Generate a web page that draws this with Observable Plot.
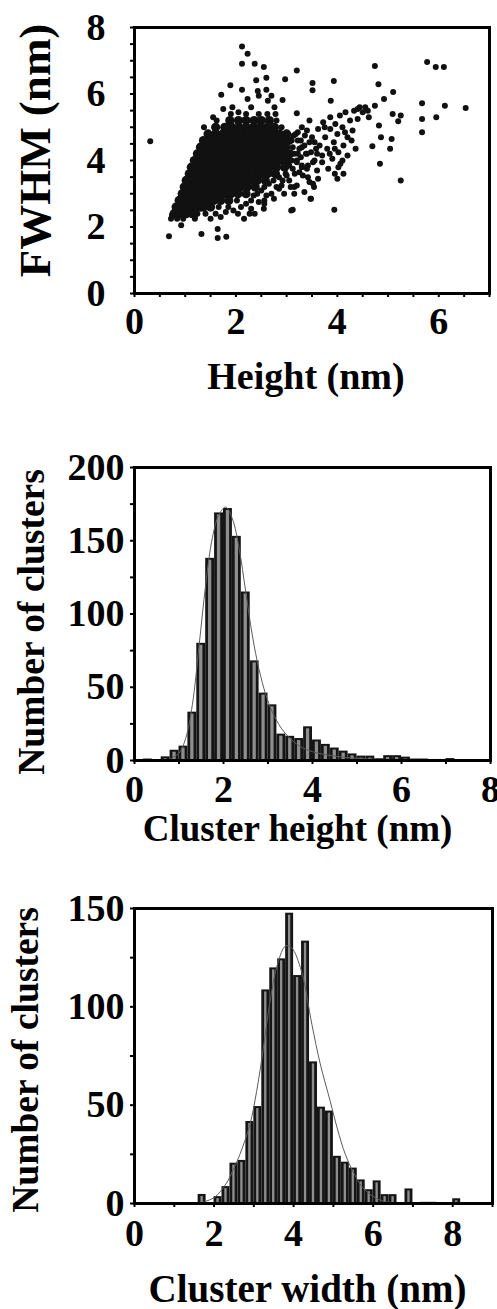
<!DOCTYPE html>
<html><head><meta charset="utf-8">
<script src="https://cdn.jsdelivr.net/npm/d3@7"></script>
<script src="https://cdn.jsdelivr.net/npm/@observablehq/plot@0.6"></script>
<style>
html,body{margin:0;padding:0;background:#fff;}
#wrap{position:relative;width:497px;height:1309px;overflow:hidden;background:#fff;}
#wrap svg{position:absolute;left:0;overflow:visible;}
</style></head><body><div id="wrap"></div>
<script>
// ---------- Panel A: FWHM vs Height scatter ----------
// dense core, one row per FWHM level: [FWHM, [heights...]]
const scatterCoreRows = [
  [5.2, [1.88, 2.05, 2.2, 2.36, 2.5, 2.66]],
  [5.0, [1.6, 1.78, 1.92, 2.06, 2.2, 2.34, 2.48, 2.62, 2.76]],
  [4.8, [1.45, 1.6, 1.74, 1.88, 2.02, 2.16, 2.3, 2.44, 2.58, 2.72, 2.86, 3.0]],
  [4.6, [1.36, 1.5, 1.64, 1.78, 1.92, 2.06, 2.2, 2.34, 2.48, 2.62, 2.76, 2.9, 3.04]],
  [4.4, [1.3, 1.44, 1.58, 1.72, 1.86, 2.0, 2.14, 2.28, 2.42, 2.56, 2.7, 2.84, 2.98]],
  [4.2, [1.24, 1.38, 1.52, 1.66, 1.8, 1.94, 2.08, 2.22, 2.36, 2.5, 2.64, 2.78, 2.92, 3.06]],
  [4.0, [1.18, 1.32, 1.46, 1.6, 1.74, 1.88, 2.02, 2.16, 2.3, 2.44, 2.58, 2.72, 2.86, 3.0]],
  [3.8, [1.12, 1.26, 1.4, 1.54, 1.68, 1.82, 1.96, 2.1, 2.24, 2.38, 2.52, 2.66, 2.8, 2.96]],
  [3.6, [1.08, 1.22, 1.36, 1.5, 1.64, 1.78, 1.92, 2.06, 2.2, 2.34, 2.48, 2.62, 2.78]],
  [3.4, [1.02, 1.16, 1.3, 1.44, 1.58, 1.72, 1.86, 2.0, 2.14, 2.28, 2.42, 2.58]],
  [3.2, [0.98, 1.1, 1.24, 1.38, 1.52, 1.66, 1.8, 1.94, 2.08, 2.22, 2.38]],
  [3.0, [0.94, 1.06, 1.2, 1.34, 1.48, 1.62, 1.76, 1.9, 2.04, 2.2]],
  [2.8, [0.88, 1.0, 1.14, 1.28, 1.42, 1.56, 1.7, 1.86]],
  [2.6, [0.82, 0.95, 1.08, 1.22, 1.36, 1.5]],
  [2.4, [0.78, 0.9, 1.02, 1.14]]
];
// single points: [height, FWHM]
const scatterPoints = [
  [1.93,5.6],[2.76,5.6],[1.9,5.4],[2.2,5.4],[2.45,5.4],[2.62,5.4],[2.78,5.4],[1.62,5.2],[2.8,5.2],
  [1.37,5.0],[2.9,5.0],[3.18,4.8],[3.22,4.6],[3.12,4.4],[3.3,4.4],[3.22,4.2],[3.4,4.2],[3.2,4.0],
  [3.3,3.8],[2.98,3.6],[3.16,3.6],[2.74,3.4],[2.92,3.4],[2.56,3.2],[2.8,3.2],[3.15,3.2],[2.42,3.0],
  [2.7,3.0],[2.02,2.8],[2.3,2.8],[2.56,2.8],[1.66,2.6],[1.85,2.6],[2.1,2.6],[1.24,2.4],[1.4,2.4],
  [1.6,2.4],[2.04,2.4],[2.27,2.4],[2.37,2.4],[0.72,2.25],[0.84,2.25],[0.96,2.25],[1.19,2.25],
  [1.5,2.25],[2.16,2.25],[0.74,2.35],
  [2.3,2.55],[2.45,2.75],[2.6,2.95],[2.75,2.85],[2.5,3.1],[2.65,3.3],[2.85,3.5],[2.9,3.25],
  [2.2,2.7],[1.95,2.5],[1.8,2.45],[2.7,3.6],[2.55,2.55],[2.35,2.95],[1.7,2.3],[1.3,2.55],
  [3.1,4.6],[3.15,4.2],[3.25,4.35],[3.3,3.85],[3.38,4.2],[3.12,3.75],[3.2,3.95],[3.28,4.6],
  [3.36,4.75],[3.45,4.55],[3.52,3.95],[3.58,4.35],[3.1,4.0],[3.32,3.55],[3.0,3.55],[3.08,3.2],
  [2.95,3.0],[2.85,3.15],[3.14,4.75],[3.05,3.85],
  [3.28,4.1],[3.35,4.45],[3.42,3.85],[3.48,4.25],[3.5,4.7],[3.55,4.0],[3.6,3.7],[3.62,4.95],
  [3.65,4.45],[3.7,4.15],[3.72,5.15],[3.76,4.7],[3.8,4.35],[3.82,3.75],[3.86,4.95],[3.86,5.3],
  [3.9,4.05],[3.93,4.55],[3.96,5.1],[3.95,3.6],[4.0,4.8],[4.02,4.25],[4.05,5.35],[4.06,3.9],
  [4.1,5.0],[4.12,4.45],[4.16,5.45],[4.2,4.15],[4.2,4.7],[4.25,5.2],[4.3,4.9],[4.33,5.5],
  [4.36,4.35],[4.4,5.25],[4.44,5.6],[4.5,5.45],[4.55,5.6],[4.6,5.5],[4.62,5.3],[4.4,5.55],
  [3.42,3.5],[3.52,3.3],[3.25,3.65],[3.22,4.85],[3.3,5.0],[3.45,5.2],[3.62,3.45],[4.0,3.45],
  [4.12,3.6],[4.02,3.8],[3.15,3.0],[3.09,2.5],[3.48,2.85],[3.45,3.35],[3.54,3.2],[3.94,2.52],
  [3.05,3.4],[3.2,3.25],[3.35,3.05],[3.4,3.75],[3.7,3.95],[3.85,4.2],[4.1,4.0],[4.28,4.6],
  [3.6,4.2],[3.95,4.35],[4.15,4.85],[3.75,5.0],[3.55,4.55],[3.4,4.9],
  [0.31,4.58],[0.68,1.72],[0.92,2.05],[1.02,3.32],[1.32,1.79],[1.64,1.67],[1.81,1.71],[1.64,1.94],
  [1.19,2.3],[1.71,5.98],[1.89,6.26],[2.12,7.43],[2.23,7.21],[2.12,6.91],[2.37,6.91],[2.55,6.81],
  [2.4,6.41],[2.6,6.49],[2.12,6.13],[2.23,5.85],[2.43,6.09],[2.6,6.13],[2.63,5.8],[3.2,6.71],
  [2.97,6.44],[2.92,5.82],[3.2,5.42],[3.51,6.33],[3.51,6.11],[3.93,6.39],[3.87,5.8],[4.74,6.84],
  [4.81,6.29],[5.1,6.06],[4.92,5.85],[4.74,5.65],[4.82,5.05],[5.09,5.4],[4.69,4.43],[4.86,4.7],
  [5.04,4.35],[5.07,4.65],[4.84,3.9],[5.25,3.4],[5.2,5.18],[5.25,5.35],[5.67,5.72],[5.67,5.25],
  [5.67,4.85],[5.77,6.96],[5.94,6.81],[6.1,6.81],[6.12,5.65],[5.95,5.3],[6.53,5.58],[3.12,2.52],
  [3.47,2.85],[2.56,2.7],[2.3,5.6],[2.05,5.45],[1.75,5.55],[1.55,5.3],[2.45,5.95],[2.7,5.95]
];
const scatterXTicks = [0, 2, 4, 6];
const scatterYTicks = [0, 2, 4, 6, 8];

// ---------- Panel B: cluster height histogram ----------
const heightBinWidth = 0.2;
const heightBinStarts = [0,0.2,0.4,0.6,0.8,1.0,1.2,1.4,1.6,1.8,2.0,2.2,2.4,2.6,2.8,3.0,3.2,3.4,3.6,3.8,
  4.0,4.2,4.4,4.6,4.8,5.0,5.2,5.4,5.6,5.8,6.0,6.2,6.4,6.6,6.8,7.0,7.2,7.4,7.6,7.8];
const heightCounts = [0.5,1,0.5,2.5,7,9.8,33,80,138,169,172,153,115,68,46,38,18,16.5,15,23,
  14,11,8.5,6.4,4.5,3,3,1.2,3.3,3.3,2.3,1,1,0.7,0.7,1.3,0.5,0.5,0.3,0.3];
const heightFitX = [0.8,1.0,1.15,1.3,1.45,1.6,1.75,1.9,2.05,2.2,2.35,2.5,2.65,2.8,2.95,3.1,3.3,3.5,3.7,4.0,4.5,5.0,6.0,7.0,8.0];
const heightFitY = [1,5,15,38,78,120,152,168,173,165,145,115,85,62,45,33,22,15,10,6,3,1.5,0.5,0.1,0];
const heightXTicks = [0, 2, 4, 6, 8];
const heightYTicks = [0, 50, 100, 150, 200];

// ---------- Panel C: cluster width histogram ----------
const widthBinWidth = 0.2;
const widthBinStarts = [0,0.2,0.4,0.6,0.8,1.0,1.2,1.4,1.6,1.8,2.0,2.2,2.4,2.6,2.8,3.0,3.2,3.4,3.6,3.8,
  4.0,4.2,4.4,4.6,4.8,5.0,5.2,5.4,5.6,5.8,6.0,6.2,6.4,6.6,6.8,7.0,7.2,7.4,7.6,7.8,8.0,8.2,8.4,8.6];
const widthCounts = [0,0,0,0,0,0,0,0,4.6,0.5,3.5,8.6,20.5,21.9,41.7,49.3,108.6,119.8,124.4,147.6,
  115.9,133.4,72,49,47,24,21,18,12,7,11.5,4.5,4.5,0.5,7.4,0.3,0.6,0.6,0,0,2.4,0,0,0];
const widthFitX = [1.6,2.0,2.3,2.5,2.65,2.9,3.07,3.24,3.41,3.6,3.8,3.95,4.2,4.46,4.67,4.92,5.1,5.3,5.5,5.7,5.9,6.2,6.6,7.0];
const widthFitY = [0,3,10,18,25,40,57,79,103,122,131,130,118,91,71,52,38,25,16,9,5,1.5,0.3,0];
const widthXTicks = [0, 2, 4, 6, 8];
const widthYTicks = [0, 50, 100, 150];

// ---------- drawing ----------
const FONT = "Liberation Serif, Times New Roman, serif";
const wrap = document.getElementById("wrap");

function place(svg, top) {
  svg.style.top = top + "px";
  wrap.appendChild(svg);
}

function axes({xMinor, yMinor, xLabels, yLabels, xPad, yPad, tickFont}) {
  return [
    Plot.axisX({ticks: xMinor, tickFormat: d => xLabels.includes(d) ? String(d) : "",
      tickSize: 4, tickPadding: xPad, strokeWidth: 2, stroke: "black", fill: "black",
      fontSize: tickFont, fontWeight: "bold", fontFamily: FONT, label: null}),
    Plot.axisY({ticks: yMinor, tickFormat: d => yLabels.includes(d) ? String(d) : "",
      tickSize: 4, tickPadding: yPad, strokeWidth: 2, stroke: "black", fill: "black",
      fontSize: tickFont, fontWeight: "bold", fontFamily: FONT, label: null})
  ];
}

function titles({xTitle, xdx, xdy, xSize, yTitle, ydx, ydy, ySize}) {
  return [
    Plot.text([xTitle], {text: d => d, frameAnchor: "bottom", dx: xdx, dy: xdy,
      textAnchor: "middle", lineAnchor: "middle", fontSize: xSize, fontWeight: "bold",
      fontFamily: FONT, fill: "black"}),
    Plot.text([yTitle], {text: d => d, frameAnchor: "left", dx: ydx, dy: ydy, rotate: -90,
      textAnchor: "middle", lineAnchor: "middle", fontSize: ySize, fontWeight: "bold",
      fontFamily: FONT, fill: "black"})
  ];
}

// Panel A
const coreData = [];
for (const [fy, xs] of scatterCoreRows) for (const hx of xs) coreData.push({h: hx, f: fy});
const pointData = scatterPoints.map(([hx, fy]) => ({h: hx, f: fy}));

place(Plot.plot({
  width: 497, height: 400,
  marginLeft: 134, marginRight: 8, marginTop: 27, marginBottom: 107,
  style: {fontFamily: FONT, background: "white"},
  x: {domain: [0, 7], label: null},
  y: {domain: [0, 8], label: null},
  marks: [
    Plot.dot(coreData, {x: "h", y: "f", r: 4.6, fill: "#111", stroke: "none"}),
    Plot.dot(pointData, {x: "h", y: "f", r: 3, fill: "#111", stroke: "none"}),
    Plot.frame({stroke: "black", strokeWidth: 3}),
    ...axes({xMinor: d3.range(0, 7.01, 0.5), yMinor: d3.range(0, 8.01, 0.5),
      xLabels: scatterXTicks, yLabels: scatterYTicks, xPad: 10, yPad: 25, tickFont: 38}),
    ...titles({xTitle: "Height (nm)", xdx: -6, xdy: 83, xSize: 38,
      yTitle: "FWHM (nm)", ydx: -99, ydy: -10, ySize: 45})
  ]
}), 0);

// histogram helper
function histogram({starts, counts, binW, fitX, fitY, xDomain, yDomain, xMinor, yMinor,
                    xLabels, yLabels, height, mt, mb, mr, xPad, titleOpts}) {
  const bars = starts.map((s, i) => ({x1: s, x2: s + binW, y: counts[i]}));
  const fit = fitX.map((x, i) => ({x, y: fitY[i]}));
  return Plot.plot({
    width: 497, height,
    marginLeft: 134, marginRight: mr, marginTop: mt, marginBottom: mb,
    style: {fontFamily: FONT, background: "white"},
    x: {domain: xDomain, label: null},
    y: {domain: yDomain, label: null},
    marks: [
      Plot.rectY(bars, {x1: "x1", x2: "x2", y: "y", fill: "#151515"}),
      Plot.rectY(bars, {x1: "x1", x2: "x2", y: "y", fill: "#8e8e8e", insetLeft: 2.8, insetRight: 2.8, insetTop: 2}),
      Plot.line(fit, {x: "x", y: "y", stroke: "#5c5c5c", strokeWidth: 1, curve: "catmull-rom"}),
      Plot.frame({stroke: "black", strokeWidth: 3}),
      ...axes({xMinor, yMinor, xLabels, yLabels, xPad, yPad: 6, tickFont: 38}),
      ...titles(titleOpts)
    ]
  });
}

place(histogram({
  starts: heightBinStarts, counts: heightCounts, binW: heightBinWidth,
  fitX: heightFitX, fitY: heightFitY, xDomain: [0, 8], yDomain: [0, 200],
  xMinor: d3.range(0, 8.01, 1), yMinor: d3.range(0, 200.1, 25),
  xLabels: heightXTicks, yLabels: heightYTicks,
  height: 450, mt: 47, mb: 110, mr: 7, xPad: 11,
  titleOpts: {xTitle: "Cluster height (nm)", xdx: -15, xdy: 69, xSize: 37,
    yTitle: "Number of clusters", ydx: -103, ydy: 8, ySize: 37.5}
}), 420);

place(histogram({
  starts: widthBinStarts, counts: widthCounts, binW: widthBinWidth,
  fitX: widthFitX, fitY: widthFitY, xDomain: [0, 9], yDomain: [0, 150],
  xMinor: d3.range(0, 9.01, 1), yMinor: d3.range(0, 150.1, 25),
  xLabels: widthXTicks, yLabels: widthYTicks,
  height: 429, mt: 28, mb: 106, mr: 5, xPad: 12,
  titleOpts: {xTitle: "Cluster width (nm)", xdx: -6, xdy: 86, xSize: 39,
    yTitle: "Number of clusters", ydx: -109, ydy: 4, ySize: 37.5}
}), 880);
</script></body></html>
